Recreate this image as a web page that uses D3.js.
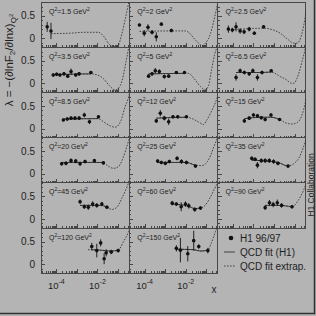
<!DOCTYPE html>
<meta charset="utf-8">
<head>
	<script src="https://d3js.org/d3.v7.min.js"></script>
	<style>
		body {
			margin: 0;
			background: #b4b4b4;
		}
		svg {
			display: block;
			font-family: "Liberation Sans", Arial, sans-serif;
		}
		text {
			fill: #1e1e1e;
		}
		.frame {
			fill: none;
			stroke: #474747;
			stroke-width: 1;
			shape-rendering: crispEdges;
		}
		.axis path {
			display: none;
		}
		.axis line {
			stroke: #474747;
			shape-rendering: crispEdges;
		}
		.fit {
			fill: none;
			stroke: #262626;
			stroke-width: 0.8;
		}
		.extrap {
			stroke-dasharray: 1.6, 1.4;
		}
		.err {
			stroke: #111;
			stroke-width: 0.9;
		}
		.pt {
			fill: #111;
		}
	</style>
</head>

<body>
	<div id="chart"></div>
</body>

<script type="text/javascript">

	// one entry per panel, row by row
	var q2 = [1.5, 2, 2.5, 3.5, 5, 6.5, 8.5, 12, 15, 20, 25, 35, 45, 60, 90, 120, 150];

	// the QCD fit is only drawn solid from this Q2 on
	var fitMinQ2 = 3.5;

	var pointX = [
		[3.6e-5, 5.5e-5],
		[5.6e-5, 9.6e-5, 1.46e-4, 2.3e-4, 3.7e-4, 6.5e-4, 2.0e-3],
		[6.0e-5, 9.4e-5, 1.42e-4, 2.24e-4, 3.5e-4, 6.2e-4, 1.1e-3, 3.1e-3],
		[7.1e-5, 1.04e-4, 1.5e-4, 2.36e-4, 3.6e-4, 5.2e-4, 8.8e-4, 1.28e-3, 4.8e-3],
		[1.56e-4, 2.3e-4, 3.3e-4, 5.2e-4, 9.1e-4, 1.48e-3, 3.5e-3, 8.7e-3],
		[1.42e-4, 2.24e-4, 3.6e-4, 6.2e-4, 9.3e-4, 1.56e-3, 2.6e-3, 7.3e-3],
		[2.2e-4, 3.4e-4, 5.2e-4, 8.1e-4, 1.29e-3, 2.3e-3, 4.1e-3, 0.0112],
		[3.7e-4, 5.8e-4, 9.1e-4, 1.48e-3, 2.4e-3, 4.1e-3, 0.0108],
		[3.6e-4, 6.2e-4, 1.0e-3, 1.56e-3, 2.4e-3, 3.7e-3, 7.1e-3, 0.0186],
		[1.82e-4, 2.95e-4, 5.2e-4, 8.8e-4, 1.43e-3, 2.5e-3, 7.1e-3, 0.0195],
		[4.3e-4, 6.5e-4, 1.02e-3, 1.6e-3, 3.8e-3, 6.2e-3, 0.0108, 0.0297],
		[8.3e-4, 1.2e-3, 1.56e-3, 2.4e-3, 3.7e-3, 5.9e-3, 9.5e-3, 0.0155, 0.048],
		[1.43e-3, 2.3e-3, 3.6e-3, 5.9e-3, 9.3e-3, 0.0164, 0.029],
		[2.2e-3, 3.5e-3, 6.0e-3, 9.7e-3, 0.014, 0.0275, 0.052],
		[3.7e-3, 6.0e-3, 9.1e-3, 0.0144, 0.0233, 0.075],
		[5.3e-3, 9.3e-3, 0.0144, 0.0212, 0.0266, 0.047, 0.102],
		[3.5e-3, 5.5e-3, 0.0126, 0.0245, 0.043, 0.119]
	];

	var pointL = [
		[0.25, 0.16],
		[0.29, 0.11, 0.24, 0.13, 0.03, 0.31, 0.17],
		[0.20, 0.18, 0.25, 0.16, 0.14, 0.20, 0.11, 0.25],
		[0.185, 0.20, 0.185, 0.21, 0.16, 0.26, 0.185, 0.21, 0.24],
		[0.16, 0.21, 0.28, 0.26, 0.15, 0.16, 0.24, 0.24],
		[0.13, 0.28, 0.24, 0.21, 0.28, 0.13, 0.24, 0.28],
		[0.19, 0.21, 0.23, 0.23, 0.23, 0.30, 0.15, 0.26],
		[0.17, 0.34, 0.23, 0.15, 0.26, 0.26, 0.26],
		[0.17, 0.23, 0.30, 0.28, 0.24, 0.20, 0.30, 0.20],
		[0.22, 0.23, 0.29, 0.28, 0.22, 0.27, 0.29, 0.24],
		[0.28, 0.25, 0.23, 0.27, 0.34, 0.27, 0.25, 0.17],
		[0.34, 0.32, 0.19, 0.29, 0.29, 0.29, 0.27, 0.23, 0.17],
		[0.38, 0.27, 0.26, 0.33, 0.30, 0.33, 0.26],
		[0.35, 0.33, 0.27, 0.33, 0.29, 0.21, 0.24],
		[0.25, 0.36, 0.32, 0.36, 0.30, 0.27],
		[0.39, 0.30, 0.47, 0.12, 0.25, 0.27, 0.30],
		[0.35, 0.31, 0.23, 0.52, 0.39, 0.30]
	];

	var pointErr = [
		[0.11, 0.18],
		[0.03, 0.07, 0.07, 0.05, 0.10, 0.03, 0.04],
		[0.08, 0.05, 0.10, 0.06, 0.05, 0.05, 0.04, 0.03],
		[0.04, 0.04, 0.04, 0.04, 0.04, 0.07, 0.04, 0.04, 0.03],
		[0.04, 0.04, 0.06, 0.05, 0.04, 0.04, 0.03, 0.03],
		[0.07, 0.05, 0.04, 0.04, 0.05, 0.07, 0.04, 0.03],
		[0.03, 0.04, 0.04, 0.04, 0.04, 0.05, 0.05, 0.03],
		[0.04, 0.07, 0.05, 0.07, 0.04, 0.04, 0.03],
		[0.04, 0.04, 0.04, 0.04, 0.04, 0.04, 0.04, 0.03],
		[0.04, 0.04, 0.05, 0.05, 0.05, 0.04, 0.03, 0.03],
		[0.04, 0.04, 0.04, 0.04, 0.04, 0.05, 0.04, 0.03],
		[0.04, 0.04, 0.07, 0.05, 0.05, 0.05, 0.05, 0.04, 0.03],
		[0.05, 0.05, 0.06, 0.06, 0.05, 0.05, 0.04],
		[0.05, 0.04, 0.10, 0.06, 0.06, 0.05, 0.04],
		[0.05, 0.06, 0.06, 0.07, 0.05, 0.04],
		[0.08, 0.15, 0.08, 0.12, 0.08, 0.05, 0.04],
		[0.07, 0.27, 0.17, 0.22, 0.05, 0.06]
	];

	// QCD fit curves
	var fitX = [
		[5.5e-5, 4.7e-4, 2.5e-3, 0.011, 0.021, 0.035, 0.056, 0.095, 0.155, 0.22, 0.33, 0.45],
		[5.6e-5, 2e-3, 9.7e-3, 0.036, 0.063, 0.091, 0.16, 0.28, 0.36],
		[6e-5, 3.1e-3, 6.5e-3, 0.020, 0.051, 0.089, 0.135, 0.23, 0.33, 0.45],
		[7e-5, 4.8e-3, 9.3e-3, 0.019, 0.042, 0.073, 0.10, 0.16, 0.25, 0.33, 0.45],
		[1.56e-4, 8.7e-3, 0.0135, 0.0295, 0.052, 0.091, 0.129, 0.18, 0.25, 0.36],
		[1.42e-4, 2.6e-3, 7.3e-3, 0.020, 0.043, 0.062, 0.091, 0.13, 0.23, 0.33, 0.45],
		[2.2e-4, 0.0112, 0.0195, 0.042, 0.073, 0.138, 0.22, 0.33, 0.45],
		[3.7e-4, 0.0108, 0.0204, 0.052, 0.074, 0.10, 0.16, 0.28, 0.36],
		[3.6e-4, 2.4e-3, 7.1e-3, 0.0186, 0.035, 0.074, 0.13, 0.23, 0.33, 0.45],
		[1.82e-4, 0.0195, 0.029, 0.060, 0.107, 0.186, 0.30, 0.40],
		[4.3e-4, 0.0108, 0.0297, 0.063, 0.112, 0.16, 0.235, 0.34, 0.45],
		[8.3e-4, 0.0155, 0.048, 0.089, 0.158, 0.257, 0.37],
		[1.43e-3, 0.0164, 0.029, 0.050, 0.089, 0.155, 0.275, 0.36],
		[2.2e-3, 0.014, 0.0275, 0.052, 0.091, 0.16, 0.28, 0.36],
		[3.7e-3, 0.0233, 0.075, 0.155, 0.275, 0.37],
		[3.5e-3, 0.0137, 0.047, 0.102, 0.186, 0.33, 0.45],
		[3.5e-3, 0.0245, 0.052, 0.119, 0.17, 0.28, 0.36]
	];

	var fitL = [
		[0.10, 0.11, 0.13, 0.13, 0.03, -0.12, -0.19, -0.18, 0.10, 0.40, 0.78, 1.1],
		[0.15, 0.16, 0.16, -0.08, -0.17, -0.11, 0.10, 0.55, 0.78],
		[0.18, 0.22, 0.20, 0.11, -0.04, -0.11, -0.11, 0.11, 0.47, 0.9],
		[0.19, 0.21, 0.19, 0.11, -0.07, -0.15, -0.12, 0.07, 0.50, 0.78, 1.1],
		[0.21, 0.22, 0.22, 0.07, -0.07, -0.14, -0.05, 0.30, 0.62, 0.85],
		[0.24, 0.24, 0.25, 0.15, 0.07, 0.01, 0.0, 0.11, 0.48, 0.77, 1.1],
		[0.21, 0.22, 0.15, 0.06, 0.03, 0.17, 0.48, 0.70, 1.0],
		[0.23, 0.25, 0.22, 0.12, 0.09, 0.17, 0.34, 0.58, 0.72],
		[0.22, 0.25, 0.25, 0.20, 0.13, 0.10, 0.13, 0.30, 0.56, 0.85],
		[0.25, 0.25, 0.19, 0.12, 0.16, 0.38, 0.67, 0.85],
		[0.25, 0.25, 0.19, 0.18, 0.27, 0.40, 0.60, 0.78, 0.95],
		[0.30, 0.25, 0.17, 0.22, 0.34, 0.56, 0.78],
		[0.30, 0.30, 0.26, 0.21, 0.26, 0.46, 0.71, 0.85],
		[0.33, 0.28, 0.23, 0.24, 0.31, 0.49, 0.71, 0.80],
		[0.30, 0.30, 0.27, 0.42, 0.64, 0.79],
		[0.32, 0.31, 0.29, 0.31, 0.50, 0.72, 0.9],
		[0.33, 0.32, 0.29, 0.31, 0.45, 0.72, 0.85]
	];

	var yTickLabels = [0, 0.5];
	var xTickExp = [-4, -2];

	var W = 316, H = 316;
	var margin = {left: 41, top: 2},
		panelW = 88.3,
		panelH = 45.2,
		nCols = 3,
		nRows = 6;

	var x = d3.scaleLog()
		.domain([1.8e-5, 0.355])
		.range([0, panelW]);

	var y = d3.scaleLinear()
		.domain([-0.2, 0.8])
		.range([panelH, 0]);

	var isDecade = function(t) { return Math.abs(Math.log10(t) - Math.round(Math.log10(t))) < 1e-6; };
	var xMajor = x.ticks().filter(isDecade),
		xMinor = x.ticks().filter(function(t) { return !isDecade(t); });
	var yMinor = d3.range(-2, 9).map(function(k) { return k / 10; });

	var line = d3.line()
		.x(function(d) { return x(d[0]); })
		.y(function(d) { return y(d[1]); })
		.curve(d3.curveMonotoneX);

	var svg = d3.select("#chart").append("svg")
		.attr("width", W)
		.attr("height", H);

	svg.append("rect")
		.attr("width", W)
		.attr("height", H)
		.style("fill", "#b4b4b4");

	var defs = svg.append("defs");

	q2.forEach(function(q, i) {
		var col = i % nCols, row = Math.floor(i / nCols);
		var g = svg.append("g")
			.attr("transform", "translate(" + (margin.left + col * panelW) + "," + (margin.top + row * panelH) + ")");

		defs.append("clipPath").attr("id", "clip" + i)
			.append("rect").attr("width", panelW).attr("height", panelH);

		// ticks inside the frame
		g.append("g").attr("class", "axis")
			.attr("transform", "translate(0," + panelH + ")")
			.call(d3.axisBottom(x).tickValues(xMajor).tickSize(-4).tickFormat(""));
		g.append("g").attr("class", "axis")
			.attr("transform", "translate(0," + panelH + ")")
			.call(d3.axisBottom(x).tickValues(xMinor).tickSize(-2).tickFormat(""));
		g.append("g").attr("class", "axis")
			.call(d3.axisLeft(y).tickValues(yMinor).tickSize(-2).tickFormat(""));
		g.append("g").attr("class", "axis")
			.call(d3.axisLeft(y).tickValues(yTickLabels).tickSize(-4).tickFormat(""));

		g.append("rect")
			.attr("class", "frame")
			.attr("width", panelW)
			.attr("height", panelH);

		var plot = g.append("g").attr("clip-path", "url(#clip" + i + ")");
		var fit = fitX[i].map(function(v, j) { return [v, fitL[i][j]]; });

		plot.append("path")
			.attr("class", "fit extrap")
			.attr("d", line(fit));

		// solid over the measured x range
		if (q >= fitMinQ2) {
			var x0 = x(d3.min(pointX[i])), x1 = x(d3.max(pointX[i]));
			defs.append("clipPath").attr("id", "fitclip" + i)
				.append("rect").attr("x", x0).attr("width", x1 - x0).attr("height", panelH);
			plot.append("g")
				.attr("clip-path", "url(#fitclip" + i + ")")
				.append("path")
				.attr("class", "fit")
				.attr("d", line(fit));
		}

		var pts = pointX[i].map(function(v, j) {
			return {x: v, l: pointL[i][j], e: pointErr[i][j]};
		});

		plot.selectAll(".err")
			.data(pts)
			.enter().append("line")
			.attr("class", "err")
			.attr("x1", function(d) { return x(d.x); })
			.attr("x2", function(d) { return x(d.x); })
			.attr("y1", function(d) { return y(d.l - d.e); })
			.attr("y2", function(d) { return y(d.l + d.e); });

		plot.selectAll(".pt")
			.data(pts)
			.enter().append("circle")
			.attr("class", "pt")
			.attr("cx", function(d) { return x(d.x); })
			.attr("cy", function(d) { return y(d.l); })
			.attr("r", 1.8);

		var lab = g.append("text")
			.attr("x", 8)
			.attr("y", 11.5)
			.style("font-size", "7px");
		lab.append("tspan").text("Q");
		lab.append("tspan").attr("dy", -2.8).style("font-size", "5px").text("2");
		lab.append("tspan").attr("dy", 2.8).text("=" + q + " GeV");
		lab.append("tspan").attr("dy", -2.8).style("font-size", "5px").text("2");

		if (col === 0) {
			g.selectAll(".ylab")
				.data(yTickLabels)
				.enter().append("text")
				.attr("x", -6)
				.attr("y", function(d) { return y(d); })
				.attr("dy", "0.36em")
				.style("text-anchor", "end")
				.style("font-size", "10px")
				.text(function(d) { return d; });
		}

		if (row === nRows - 1) {
			xTickExp.forEach(function(e) {
				var t = g.append("text")
					.attr("x", x(Math.pow(10, e)))
					.attr("y", panelH + 15.5)
					.style("text-anchor", "middle")
					.style("font-size", "9.5px");
				t.append("tspan").text("10");
				t.append("tspan").attr("dy", -4.5).style("font-size", "7px").text(e);
			});
		}
	});

	// x axis name under the middle column
	svg.append("text")
		.attr("x", 214)
		.attr("y", 293)
		.style("text-anchor", "middle")
		.style("font-size", "10px")
		.text("x");

	// y axis title
	var yt = svg.append("text")
		.attr("transform", "translate(12.5,60)rotate(-90)")
		.style("text-anchor", "middle")
		.style("font-size", "11.5px");
	yt.append("tspan").text("λ = −(∂lnF");
	yt.append("tspan").attr("dy", 2.5).style("font-size", "8px").text("2");
	yt.append("tspan").attr("dy", -2.5).text("/∂lnx)");
	yt.append("tspan").attr("dy", 3).style("font-size", "8px").text("Q");
	yt.append("tspan").attr("dy", -3).style("font-size", "6px").text("2");

	svg.append("text")
		.attr("transform", "translate(313.5,185)rotate(-90)")
		.style("text-anchor", "middle")
		.style("font-size", "8.5px")
		.text("H1 Collaboration");

	// legend
	var legend = svg.append("g").attr("transform", "translate(224,238)");
	legend.append("circle")
		.attr("cx", 7)
		.attr("cy", 0)
		.attr("r", 2.3)
		.style("fill", "#111");
	legend.append("line")
		.attr("class", "fit")
		.attr("x1", 0).attr("x2", 11)
		.attr("y1", 14).attr("y2", 14);
	legend.append("line")
		.attr("class", "fit extrap")
		.attr("x1", 0).attr("x2", 11)
		.attr("y1", 28).attr("y2", 28);
	legend.selectAll(".ltext")
		.data(["H1 96/97", "QCD fit (H1)", "QCD fit extrap."])
		.enter().append("text")
		.attr("x", 16)
		.attr("y", function(d, i) { return i * 14; })
		.attr("dy", "0.36em")
		.style("font-size", "10px")
		.text(function(d) { return d; });

	// dark edge at bottom and right of the page
	svg.append("path")
		.attr("d", "M0," + (H - 2.5) + "H" + (W - 1.5) + "V0")
		.style("fill", "none")
		.style("stroke", "#333")
		.style("stroke-width", 1.5);
</script>
